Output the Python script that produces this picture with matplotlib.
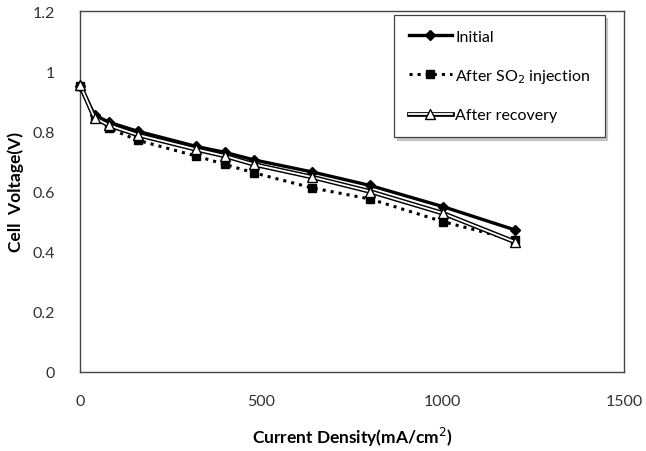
import matplotlib
matplotlib.use("Agg")
import matplotlib.pyplot as plt

plt.rcParams['font.family'] = ['Lato', 'DejaVu Sans']

# current density (mA/cm2)
current = [0, 40, 80, 160, 320, 400, 480, 640, 800, 1000, 1200]

# cell voltage (V)
v_initial = [0.950, 0.855, 0.830, 0.800, 0.750, 0.730, 0.705, 0.665, 0.620, 0.550, 0.472]
v_so2 = [0.950, 0.845, 0.810, 0.770, 0.718, 0.690, 0.662, 0.612, 0.575, 0.500, 0.438]
v_recovery = [0.955, 0.845, 0.820, 0.788, 0.740, 0.718, 0.690, 0.648, 0.600, 0.528, 0.432]

fig = plt.figure(figsize=(6.46, 4.52), dpi=100)
ax = fig.add_axes([80 / 646, 1 - 373 / 452, 544 / 646, 361 / 452])

h1, = ax.plot(current, v_initial, '-', color='black', lw=2.4, marker='D', ms=5.5,
              zorder=4, clip_on=False)
h2, = ax.plot(current, v_so2, ':', color='black', lw=2.2, marker='s', ms=6,
              zorder=3, clip_on=False)
# double line: black underlay + white core with open triangles
h3a, = ax.plot(current, v_recovery, '-', color='black', lw=3.4, zorder=5, clip_on=False)
h3b, = ax.plot(current, v_recovery, '-', color='white', lw=1.3, marker='^', ms=7.5,
               mfc='white', mec='black', mew=1.0, zorder=6, clip_on=False)

ax.set_xlim(0, 1500)
ax.set_ylim(0, 1.2)
ax.set_xticks([0, 500, 1000, 1500])
ax.set_yticks([0, 0.2, 0.4, 0.6, 0.8, 1.0, 1.2])
ax.set_yticklabels(['0', '0.2', '0.4', '0.6', '0.8', '1', '1.2'])
ax.tick_params(length=0, labelsize=11.5, colors='#333333')
ax.tick_params(axis='x', pad=16)
ax.tick_params(axis='y', pad=18)
for s in ax.spines.values():
    s.set_color('#444444')
    s.set_linewidth(1.0)

ax.set_xlabel('Current Density(mA/cm$^2$)', fontsize=12.5, fontweight='bold', labelpad=12)
ax.set_ylabel('Cell  Voltage(V)', fontsize=12.5, fontweight='bold', labelpad=6)

leg = ax.legend([h1, h2, (h3a, h3b)],
                ['Initial', 'After SO$_2$ injection', 'After recovery'],
                loc='upper left', bbox_to_anchor=(0.578, 0.988), fontsize=11.5,
                handlelength=2.7, handletextpad=0.2, labelspacing=1.45,
                borderpad=0.9, borderaxespad=0, fancybox=False,
                shadow={'color': '#bbbbbb', 'alpha': 0.8},
                framealpha=1, edgecolor='#444444')
leg.get_frame().set_linewidth(0.9)

fig.savefig('out.png', dpi=100)
